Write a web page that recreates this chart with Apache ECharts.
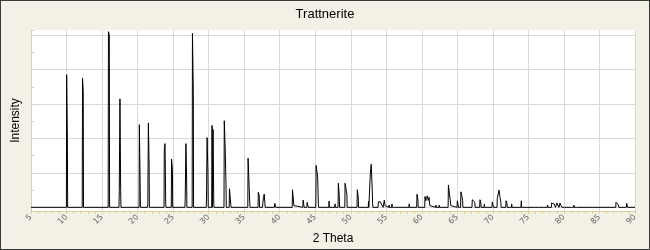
<!DOCTYPE html>
<html>
<head>
<meta charset="utf-8">
<script src="https://cdn.jsdelivr.net/npm/echarts@6/dist/echarts.min.js"></script>
<style>
  html, body { margin: 0; padding: 0; background: #f3f1e6; }
  #wrap { position: relative; width: 650px; height: 250px; }
  #chart { position: absolute; left: 0; top: 0; width: 650px; height: 250px; }
  #frame { position: absolute; left: 0; top: 0; width: 650px; height: 250px; box-sizing: border-box; border: 1px solid #3a3a36; pointer-events: none; }
</style>
</head>
<body>
<div id="wrap"><div id="chart"></div><div id="frame"></div></div>
<script>
const chartTitle = "Trattnerite";
const xAxisName = "2 Theta";
const yAxisName = "Intensity";
const thetaMin = 5;
const thetaMax = 90;
const thetaTickStep = 5;

// sampled peak points (2θ, relative intensity)
const peakTheta = [
  10.02, 10.12,
  12.25, 12.35,
  15.90, 16.02,
  17.42, 17.52, 17.62,
  20.25, 20.36,
  21.44, 21.52, 21.62,
  23.76, 23.86, 23.96,
  24.78, 24.90,
  26.70, 26.80, 26.90,
  27.72, 27.84,
  29.70, 29.78, 29.90,
  30.48, 30.62, 30.72,
  32.20, 32.32, 32.44,
  32.93, 33.03, 33.12,
  35.55, 35.68, 35.78,
  36.99, 37.12,
  37.62, 37.72, 37.82, 37.92,
  39.30, 39.42,
  41.80, 41.90, 42.00,
  43.30, 43.40,
  43.86, 43.98,
  45.12, 45.22, 45.34, 45.44,
  46.95,
  47.78,
  48.25, 48.38,
  49.20, 49.32, 49.45,
  50.92, 51.05,
  52.50, 52.75, 52.88, 53.00, 53.08,
  53.88, 53.98, 54.08, 54.18, 54.28, 54.40, 54.52, 54.72, 54.82,
  55.40, 55.80, 56.20,
  58.22,
  59.32, 59.45,
  60.45, 60.55, 60.65, 60.78, 60.90, 61.02, 61.12,
  62.00, 62.45,
  63.74, 63.86, 63.98, 64.08,
  65.00, 65.12,
  65.50, 65.62, 65.74,
  67.10, 67.22, 67.34, 67.46,
  68.18, 68.30,
  68.80,
  69.92, 70.04,
  70.62, 70.75, 70.88, 71.00, 71.12,
  71.85, 71.98,
  72.65,
  74.00,
  75.90, 76.50, 77.20, 77.70,
  78.27, 78.40, 78.52, 78.64, 78.76,
  79.02, 79.14, 79.26,
  79.45, 79.57, 79.68,
  80.10, 81.10, 81.40, 81.80, 83.00, 84.00,
  87.33, 87.45, 87.56, 87.68,
  88.83, 88.95
];
const peakIntensity = [
  77, 40,
  75, 67,
  102, 100,
  9, 63, 9,
  48, 49,
  1.5, 49, 25,
  34, 37, 1.5,
  28, 22,
  4.4, 37, 17,
  101, 68,
  5.4, 40.5, 20.4,
  47.6, 45.2, 2,
  50.3, 35.3, 14,
  10.8, 10.4, 1.5,
  28.5, 28, 3,
  8.7, 6.6,
  2, 5.8, 7.7, 2,
  2.3, 2,
  10.2, 10.6, 1,
  4.2, 4,
  2.9, 2.9,
  24.3, 24.6, 17.7, 1.5,
  3.6,
  2,
  14, 7,
  14, 13.9, 7.6,
  10.2, 6,
  3.6, 19.3, 25, 12.5, 2,
  3.2, 3.2, 2.5, 3.2, 2, 1.5, 1.5, 4.2, 1,
  1.3, 2, 1,
  2,
  7.6, 4.2,
  6.3, 3.8, 5.2, 6.7, 4, 5.8, 1,
  1.3, 1.3,
  13, 12.5, 4.8, 1,
  3.8, 3,
  9, 7.1, 3.8,
  4.4, 3.8, 4.9, 3,
  4.4, 3.2,
  1.9,
  3.2, 2.5,
  5.2, 7.7, 10, 5.8, 3,
  3.8, 2.5,
  1.9,
  3.8,
  1, 1, 1, 1.3,
  2.5, 1.5, 1.9, 1.9, 1.2,
  2.5, 1.5, 2,
  2.5, 1.2, 1.3,
  1, 1, 1.3, 1, 1, 1,
  2.9, 1.8, 2.3, 1.3,
  2.3, 1.3
];

// build the profile: baseline at 0 between separate peak groups
const profile = [[thetaMin, 0]];
for (let i = 0; i < peakTheta.length; i++) {
  const t = peakTheta[i];
  const prev = i > 0 ? peakTheta[i - 1] : null;
  if (prev === null || t - prev > 0.14) {
    if (prev !== null) profile.push([prev + 0.04, 0]);
    profile.push([t - 0.04, 0]);
  }
  profile.push([t, peakIntensity[i]]);
}
profile.push([peakTheta[peakTheta.length - 1] + 0.04, 0]);
profile.push([thetaMax, 0]);

const axisYellow = '#d9d19b';
const chart = echarts.init(document.getElementById('chart'), null, { renderer: 'canvas' });
chart.setOption({
  animation: false,
  backgroundColor: '#f3f1e6',
  title: {
    text: chartTitle,
    left: 'center',
    top: 3,
    textStyle: { fontFamily: 'Liberation Sans', fontSize: 13, fontWeight: 'normal', color: '#000' }
  },
  grid: {
    left: 31, right: 15, top: 30, bottom: 38,
    show: true, backgroundColor: '#ffffff', borderWidth: 0
  },
  xAxis: {
    type: 'value',
    min: thetaMin, max: thetaMax, interval: thetaTickStep,
    name: xAxisName, nameLocation: 'middle', nameGap: 18,
    nameTextStyle: { fontFamily: 'Liberation Sans', fontSize: 12, color: '#000' },
    axisLine: { show: true, onZero: false, lineStyle: { color: axisYellow, width: 1 } },
    axisTick: { show: true, inside: false, length: 3, lineStyle: { color: axisYellow } },
    minorTick: { show: true, splitNumber: 5, length: 3, lineStyle: { color: axisYellow } },
    splitLine: { show: true, lineStyle: { color: '#d9d9d9', width: 1 } },
    axisLabel: {
      rotate: 45, margin: 5, fontSize: 8, color: '#666',
      fontFamily: 'DejaVu Sans', showMinLabel: true, showMaxLabel: true
    }
  },
  yAxis: {
    type: 'value',
    min: -2.1, max: 103, minInterval: 20, maxInterval: 20,
    name: yAxisName, nameLocation: 'middle', nameGap: 9,
    nameTextStyle: { fontFamily: 'Liberation Sans', fontSize: 12, color: '#000' },
    axisLine: { show: true, lineStyle: { color: axisYellow, width: 1 } },
    axisTick: { show: true, inside: true, length: 3, lineStyle: { color: axisYellow } },
    minorTick: { show: true, splitNumber: 2, length: 3, lineStyle: { color: axisYellow } },
    splitLine: { show: true, showMinLine: false, showMaxLine: false, lineStyle: { color: '#d9d9d9', width: 1 } },
    axisLabel: { show: false }
  },
  series: [{
    type: 'line',
    data: profile,
    showSymbol: false,
    symbol: 'none',
    sampling: null,
    clip: true,
    lineStyle: { color: '#000000', width: 1 }
  }]
});
</script>
</body>
</html>
